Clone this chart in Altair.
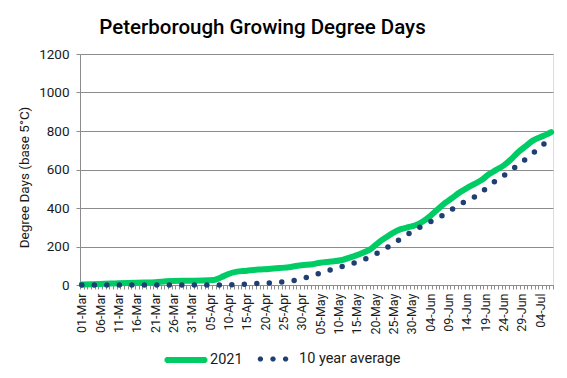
import altair as alt
import pandas as pd
from datetime import date, timedelta

# Day offsets from 01-Mar-2021 and cumulative growing degree days (base 5 °C)
days_2021 = [0, 5, 10, 15, 20, 23, 28, 33, 36, 38, 40, 42, 45, 48, 51, 54, 57, 60,
             63, 65, 68, 71, 74, 77, 79, 81, 83, 85, 87, 89, 91, 93, 95, 97, 99,
             101, 103, 105, 107, 109, 111, 113, 115, 117, 119, 121, 123, 125, 127, 128]
gdd_2021 = [3, 5, 9, 12, 14, 19, 22, 23, 26, 40, 57, 68, 74, 80, 83, 88, 94, 103,
            108, 116, 122, 130, 148, 170, 190, 222, 248, 272, 290, 300, 310, 330, 358, 392, 425,
            452, 480, 503, 524, 545, 575, 598, 620, 652, 690, 720, 750, 768, 784, 794]

days_avg = [0, 36, 39, 43, 46, 49, 53, 56, 58, 60, 62, 65, 68, 71, 74, 77, 80, 83,
            86, 89, 92, 95, 98, 100, 103, 106, 109, 111, 114, 117, 119, 122, 124, 127, 128]
gdd_avg = [0, 0, 1, 3, 6, 9, 13, 18, 24, 33, 43, 62, 80, 96, 113, 133, 160, 192,
           228, 265, 298, 328, 358, 381, 418, 446, 482, 515, 555, 594, 626, 667, 700, 748, 764]

series_names = ["2021", "10 year average"]
series_colors = ["#00CC66", "#1F3E72"]
y_ticks = [0, 200, 400, 600, 800, 1000, 1200]

start = date(2021, 3, 1)


def iso(d):
    return (start + timedelta(days=d)).isoformat() + "T12:00:00Z"


df_2021 = pd.DataFrame({"date": [iso(d) for d in days_2021], "value": gdd_2021,
                        "series": series_names[0]})
df_avg = pd.DataFrame({"date": [iso(d) for d in days_avg], "value": gdd_avg,
                       "series": series_names[1]})

FONT = "Roboto"
GRID = "#8C8C8C"
TEXT = "#1a1a1a"

label_expr = ("floor((time(datum.value) - utc(2021,2,1)) / 86400000 + 0.5) % 5 == 0 ? "
              "utcFormat(time(datum.value) + 43200000, '%d-%b') : ''")

x_enc = alt.X(
    "date:T",
    scale=alt.Scale(type="utc",
                    domain=[alt.DateTime(year=2021, month=3, date=1, utc=True),
                            alt.DateTime(year=2021, month=7, date=8, utc=True)]),
    axis=alt.Axis(title=None, tickCount=alt.TimeIntervalStep(interval="day", step=1),
                  labelExpr=label_expr, labelAngle=-90, labelOverlap=False, labelFlush=False,
                  labelOffset=1.8, grid=False, domainColor=GRID, tickColor=GRID, tickSize=4,
                  labelPadding=4, labelFont=FONT, labelFontSize=12.5, labelColor=TEXT),
)
y_enc = alt.Y(
    "value:Q",
    scale=alt.Scale(domain=[0, 1200], nice=False),
    axis=alt.Axis(title="Degree Days (base 5°C)", values=y_ticks, format="d", grid=True,
                  gridColor=GRID, domainColor=GRID, tickColor=GRID, tickSize=4, labelPadding=7,
                  labelFont=FONT, labelFontSize=13.5, labelColor=TEXT,
                  titleFont=FONT, titleFontSize=13.5, titleFontWeight="normal", titleColor=TEXT,
                  titleAngle=-90, titleX=-56, titleY=123, titleAlign="center", titleBaseline="middle"),
)


def octagon(cx, r):
    pts = [(-1, -0.41), (-0.41, -1), (0.41, -1), (1, -0.41),
           (1, 0.41), (0.41, 1), (-0.41, 1), (-1, 0.41)]
    return "M" + " L".join(f"{cx + px * r:.4f},{py * r:.4f}" for px, py in pts) + " Z"


# legend symbols: a solid line with rounded ends, and three round dots
line_sym = "M-0.92,0 L0.92,0 " + octagon(-0.92, 0.004) + " " + octagon(0.92, 0.004)
dot_sym = " ".join(octagon(c, 0.05) for c in (-0.63, 0.0, 0.63))

legend_common = dict(orient="none", direction="horizontal", title=None, symbolSize=1600,
                     padding=0, labelFont=FONT, labelFontSize=14.5, labelColor=TEXT)

green = alt.Chart(df_2021).mark_line(
    strokeWidth=6, interpolate="monotone", strokeCap="round", strokeJoin="round"
).encode(
    x=x_enc, y=y_enc,
    color=alt.Color("series:N", scale=alt.Scale(domain=[series_names[0]], range=[series_colors[0]]),
                    legend=alt.Legend(legendX=83, legendY=283, symbolType=line_sym,
                                      symbolStrokeWidth=6, labelOffset=1, **legend_common)),
)
dots = alt.Chart(df_avg).mark_line(
    strokeWidth=5.5, interpolate="monotone", strokeCap="round", strokeDash=[0, 12.5]
).encode(
    x=x_enc, y=y_enc,
    color=alt.Color("series:N", scale=alt.Scale(domain=[series_names[1]], range=[series_colors[1]]),
                    legend=alt.Legend(legendX=171, legendY=283, symbolType=dot_sym,
                                      symbolStrokeWidth=3.2, symbolFillColor=series_colors[1],
                                      labelOffset=4, **legend_common)),
)

chart = alt.layer(green, dots).resolve_scale(color="independent").properties(
    width=473, height=231,
    autosize=alt.AutoSizeParams(type="none"),
    padding={"left": 72, "top": 46, "right": 6, "bottom": 85},
    title=alt.Title("Peterborough Growing Degree Days", font=FONT, fontSize=20.5,
                    fontWeight=500, color="#000000", anchor="middle", dx=-54, offset=9),
).configure_view(stroke=None).configure(background="white")

chart.save("out.html", embed_options={"renderer": "svg", "actions": False})
